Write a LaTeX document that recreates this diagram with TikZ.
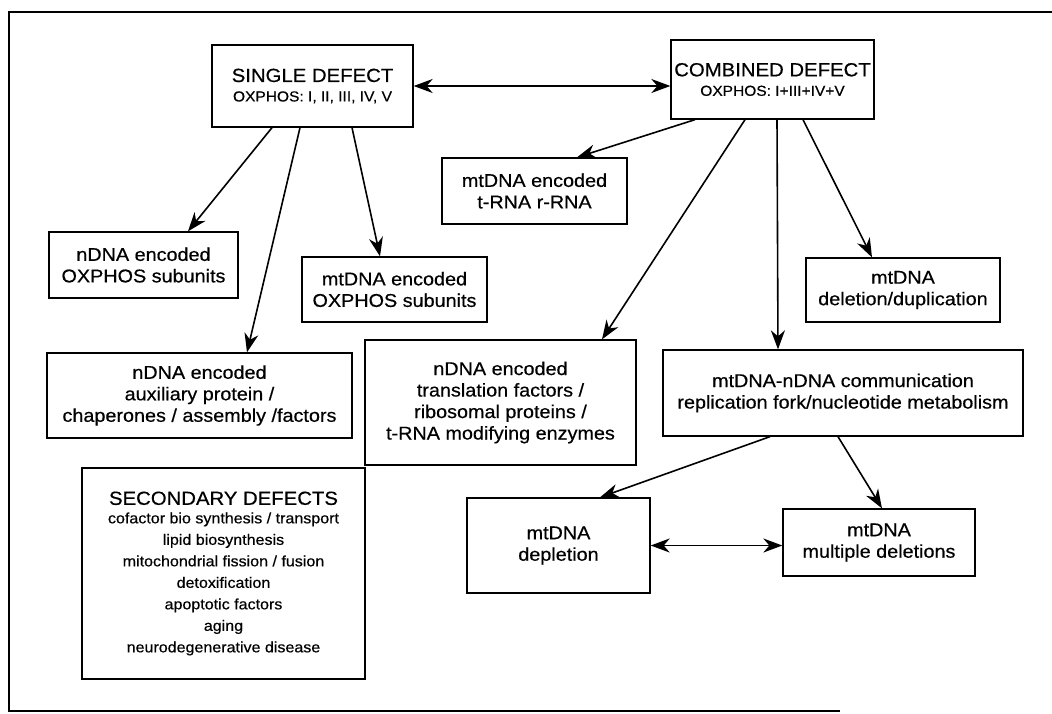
\documentclass[tikz,border=0pt]{standalone}
\usepackage{fontspec}
\setmainfont{Liberation Sans}[FakeStretch=1.07,FakeBold=0.5]
\usetikzlibrary{arrows.meta}
\newcommand{\bodyfnt}{\fontsize{18.5}{21.5}\selectfont}
\newcommand{\titlefnt}{\fontsize{19}{21}\selectfont}
\newcommand{\subfnt}{\fontsize{14.5}{16}\selectfont}
\newcommand{\secfnt}{\fontsize{15}{21.5}\selectfont}
\begin{document}
\begin{tikzpicture}[x=1pt,y=-1pt,
  box/.style={draw, line width=1.3pt, inner sep=0pt, align=center, font=\bodyfnt},
  arr/.style={line width=1.6pt, -{Stealth[length=19pt,width=14pt,inset=6pt]}},
  darr/.style={line width=1.6pt, {Stealth[length=19pt,width=14pt,inset=6pt]}-{Stealth[length=19pt,width=14pt,inset=6pt]}}]
\useasboundingbox (0,0) rectangle (1052,713);
% frame
\draw[line width=1.2pt] (1052,12) -- (9,12) -- (9,711) -- (840,711);
% nodes
\node[box, minimum width=201pt, minimum height=82pt] (single) at (312.5,86)
  {\titlefnt SINGLE DEFECT\\[-2pt]\subfnt OXPHOS: I, II, III, IV, V};
\node[box, minimum width=203pt, minimum height=79pt] (comb) at (772.5,79.5)
  {\titlefnt COMBINED DEFECT\\[-2pt]\subfnt OXPHOS: I+III+IV+V};
\node[box, minimum width=185pt, minimum height=66pt] (trna) at (534.5,191)
  {mtDNA encoded\\t-RNA r-RNA};
\node[box, minimum width=189pt, minimum height=66pt] (nox) at (143.5,265)
  {nDNA encoded\\OXPHOS subunits};
\node[box, minimum width=185pt, minimum height=65pt] (mox) at (394.5,289.5)
  {mtDNA encoded\\OXPHOS subunits};
\node[box, minimum width=305pt, minimum height=85pt] (aux) at (199.5,395.5)
  {nDNA encoded\\auxiliary protein /\\chaperones / assembly /factors};
\node[box, minimum width=271pt, minimum height=125pt] (trans) at (500.5,402.5)
  {nDNA encoded\\translation factors /\\ribosomal proteins /\\t-RNA modifying enzymes};
\node[box, minimum width=194pt, minimum height=64pt] (deldup) at (903,290)
  {mtDNA\\deletion/duplication};
\node[box, minimum width=360pt, minimum height=86pt] (comm) at (843,393)
  {mtDNA-nDNA communication\\replication fork/nucleotide metabolism};
\node[box, minimum width=183pt, minimum height=95pt] (depl) at (558.5,545.5)
  {mtDNA\\depletion};
\node[box, minimum width=192pt, minimum height=67pt] (mult) at (879,542.5)
  {mtDNA\\multiple deletions};
\node[box, minimum width=283pt, minimum height=211pt, font=\secfnt] (sec) at (223.5,573.5)
  {{\fontsize{19}{21}\selectfont SECONDARY DEFECTS}\\[-3pt]
   cofactor bio synthesis / transport\\
   lipid biosynthesis\\
   mitochondrial fission / fusion\\
   detoxification\\
   apoptotic factors\\
   aging\\
   neurodegenerative disease};
% connectors
\draw[darr] (single.east) -- (single.east -| comb.west);
\draw[arr] ([xshift=-40.5pt]single.south) -- ([xshift=44.5pt]nox.north);
\draw[arr] ([xshift=-12.5pt]single.south) -- ([xshift=47.5pt]aux.north);
\draw[arr] ([xshift=39.5pt]single.south) -- ([xshift=-14.5pt]mox.north);
\draw[arr] ([xshift=-77.5pt]comb.south) -- ([xshift=42.5pt]trna.north);
\draw[arr] ([xshift=-27.5pt]comb.south) -- ([xshift=101.5pt]trans.north);
\draw[arr] ([xshift=4.5pt]comb.south) -- ([xshift=-65pt]comm.north);
\draw[arr] ([xshift=30.5pt]comb.south) -- ([xshift=-31pt]deldup.north);
\draw[arr] ([xshift=-73pt]comm.south) -- ([xshift=41.5pt]depl.north);
\draw[arr] ([xshift=-5pt]comm.south) -- ([xshift=3pt]mult.north);
\draw[darr] (depl.east) -- (depl.east -| mult.west);
\end{tikzpicture}
\end{document}
